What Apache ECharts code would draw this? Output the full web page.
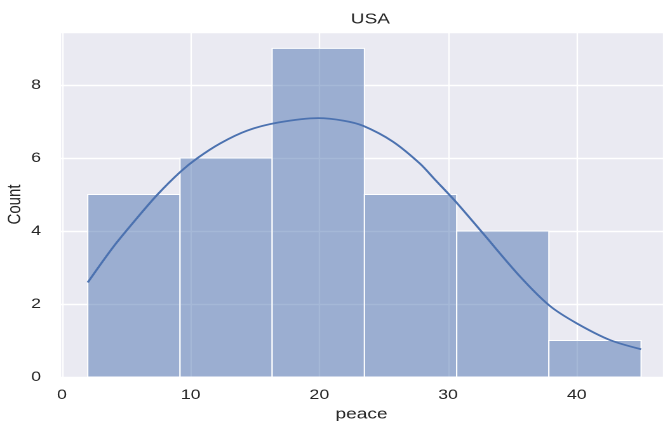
<!DOCTYPE html>
<html>
<head>
<meta charset="utf-8">
<script src="https://cdn.jsdelivr.net/npm/echarts@6/dist/echarts.min.js"></script>
<style>
html,body{margin:0;padding:0;background:#fff;overflow:hidden;}
#c{width:522px;height:421px;transform:scaleX(1.2701);transform-origin:0 0;}
</style>
</head>
<body>
<div id="c"></div>
<script>
const title = 'USA';
const xName = 'peace';
const yName = 'Count';
const binEdges = [2, 9.17, 16.33, 23.5, 30.67, 37.83, 45];
const counts = [5, 6, 9, 5, 4, 1];
const kdeX = [2, 4, 5.7, 7.4, 9.2, 10.5, 12.3, 14.4, 16.8, 19.9, 21.9, 23.4, 25.7, 27.8, 29, 30.7, 32.7, 35.6, 37.9, 40, 42.6, 45];
const kdeY = [2.59, 3.57, 4.30, 4.99, 5.62, 5.99, 6.40, 6.75, 6.97, 7.09, 7.02, 6.88, 6.45, 5.85, 5.40, 4.76, 3.94, 2.75, 1.95, 1.47, 1.01, 0.76];
const yTicks = [0, 2, 4, 6, 8];
const xTicks = [0, 10, 20, 30, 40];

const histData = counts.map((c, i) => [binEdges[i], binEdges[i + 1], c]);
const kdeData = kdeX.map((x, i) => [x, kdeY[i]]);

const S = 1.2701; // horizontal stretch of the reference image
const font = '"Liberation Sans", Arial, sans-serif';
const chart = echarts.init(document.getElementById('c'), null, {renderer: 'canvas', devicePixelRatio: 2});
chart.setOption({
  animation: false,
  backgroundColor: '#ffffff',
  title: {
    text: title, left: 364 / S, top: 7, textAlign: 'center',
    textStyle: {fontFamily: font, fontSize: 15, fontWeight: 'normal', color: '#262626'}
  },
  grid: {
    left: 60 / S, right: 0, top: 32, bottom: 44,
    containLabel: false, outerBoundsMode: 'none',
    show: true, backgroundColor: '#eaeaf2', borderWidth: 0
  },
  xAxis: {
    type: 'value', min: -0.155, max: 46.7,
    name: xName, nameLocation: 'middle', nameGap: 30, nameMoveOverlap: false,
    nameTextStyle: {fontFamily: font, fontSize: 15, color: '#262626'},
    axisLine: {show: false}, axisTick: {show: false},
    axisLabel: {
      fontFamily: font, fontSize: 14, color: '#262626', margin: 11,
      formatter: v => xTicks.some(t => Math.abs(t - v) < 1e-6) ? String(Math.round(v)) : ''
    },
    splitLine: {show: true, lineStyle: {color: '#ffffff', width: 1.2}}
  },
  yAxis: {
    type: 'value', min: 0, max: 9.45, interval: 2,
    name: yName, nameLocation: 'middle', nameGap: 28, nameRotate: 90, nameMoveOverlap: false,
    nameTextStyle: {fontFamily: font, fontSize: 15, color: '#262626'},
    axisLine: {show: false}, axisTick: {show: false},
    axisLabel: {
      fontFamily: font, fontSize: 14, color: '#262626', margin: 15,
      formatter: v => yTicks.some(t => Math.abs(t - v) < 1e-6) ? String(Math.round(v)) : ''
    },
    splitLine: {show: true, lineStyle: {color: '#ffffff', width: 1.4}}
  },
  series: [
    {
      type: 'custom',
      data: histData,
      encode: {x: [0, 1], y: 2},
      renderItem: function (params, api) {
        const p0 = api.coord([api.value(0), api.value(2)]);
        const p1 = api.coord([api.value(1), 0]);
        return {
          type: 'rect',
          shape: {x: p0[0], y: p0[1], width: p1[0] - p0[0], height: p1[1] - p0[1]},
          style: {fill: 'rgba(76,114,176,0.5)', stroke: '#ffffff', lineWidth: 1}
        };
      },
      z: 2
    },
    {
      type: 'line',
      data: kdeData,
      smooth: 0.3,
      showSymbol: false,
      lineStyle: {color: '#4c72b0', width: 1.8},
      z: 3
    }
  ]
});
</script>
</body>
</html>
